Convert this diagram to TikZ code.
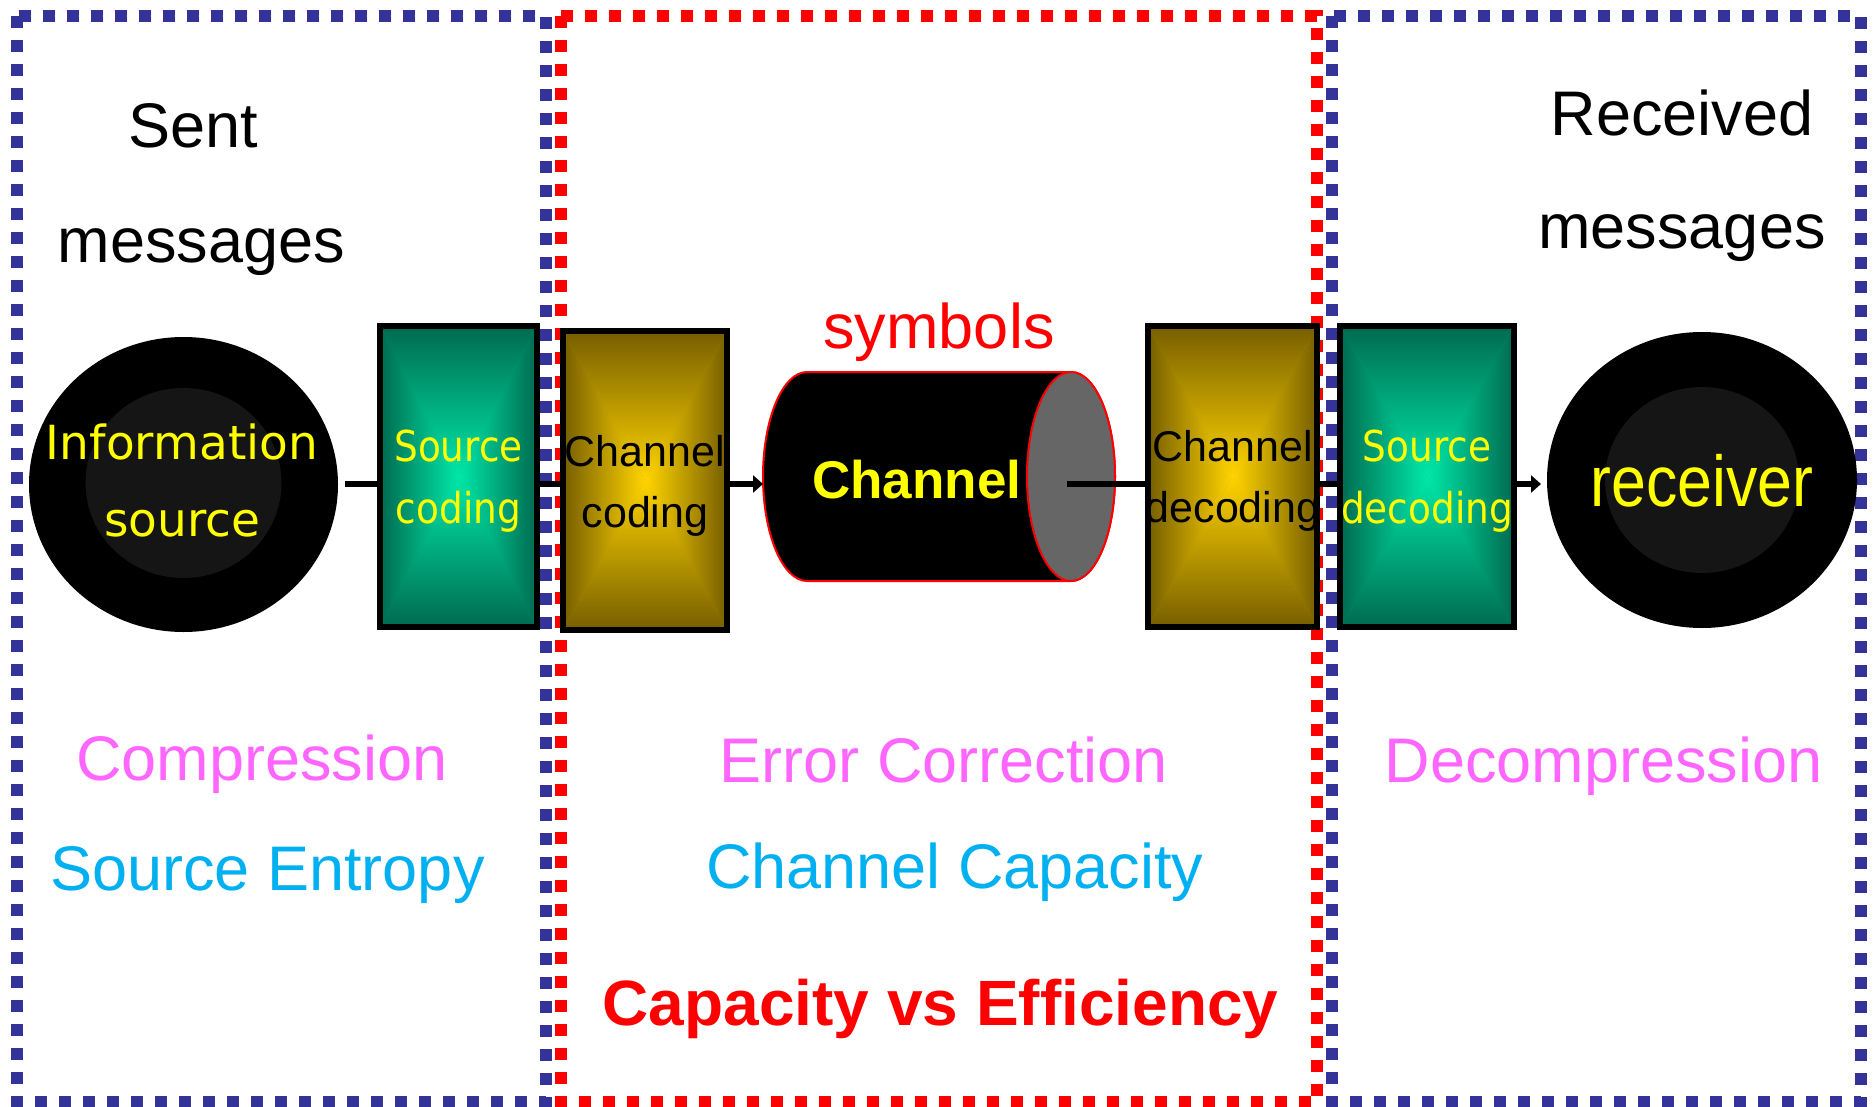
\documentclass[tikz,border=0pt]{standalone}
\usepackage{fontspec}
\setmainfont{Liberation Sans}
\newfontfamily\tahfont{DejaVu Sans}
\newfontfamily\tahnarrow[FakeStretch=0.88]{DejaVu Sans}
\newfontfamily\arialnarrow[FakeStretch=0.87]{Liberation Sans}
\usetikzlibrary{shapes.geometric,arrows.meta}

\definecolor{dblue}{RGB}{51,51,153}
\definecolor{tealE}{RGB}{0,106,80}
\definecolor{tealC}{RGB}{0,232,168}
\definecolor{goldE}{RGB}{118,94,0}
\definecolor{goldC}{RGB}{255,212,0}
\definecolor{pinkT}{RGB}{255,102,255}
\definecolor{cyanT}{RGB}{0,176,240}
\definecolor{yel}{RGB}{255,255,0}
\definecolor{capgray}{RGB}{102,102,102}
\definecolor{innerdisc}{RGB}{21,21,21}

\newcommand{\setfs}[1]{\fontsize{#1}{#1}\selectfont}

% rectangle filled with a "from centre" gradient built from four shaded triangles
\newcommand{\gradbox}[3]{%
  \fill[#3!50!#2] (#1.north west) rectangle (#1.south east);
  \shade[top color=#2, bottom color=#3] (#1.north west) -- (#1.north east) -- (#1.center) -- cycle;
  \shade[top color=#3, bottom color=#2] (#1.south west) -- (#1.south east) -- (#1.center) -- cycle;
  \shade[left color=#2, right color=#3] (#1.north west) -- (#1.south west) -- (#1.center) -- cycle;
  \shade[left color=#3, right color=#2] (#1.north east) -- (#1.south east) -- (#1.center) -- cycle;
  \draw[boxline] (#1.north west) rectangle (#1.south east);
}

\tikzset{
  bluedash/.style={draw=dblue, line width=6pt, dash pattern=on 6pt off 6pt},
  reddash/.style={draw=red, line width=6pt, dash pattern=on 6pt off 6pt},
  boxnode/.style={rectangle, inner sep=0pt, outer sep=0pt},
  boxline/.style={draw=black, line width=3pt},
  disc/.style={ellipse, fill=black, inner sep=0pt, outer sep=0pt},
  txt/.style={inner sep=0pt, outer sep=0pt, anchor=base},
  conn/.style={draw=black, line width=3pt},
  arr/.style={conn, -{Triangle[length=5pt,width=8.5pt]}},
  big/.style={txt, font=\setfs{31.5pt}},
}

\begin{document}
\begin{tikzpicture}[x=0.5pt, y=-0.5pt]
\useasboundingbox (0,0) rectangle (1873,1107);
\fill[white] (0,0) rectangle (1873,1107);

% three dotted frames
\draw[bluedash] (17,16) rectangle (546,1102);
\draw[bluedash] (1332,16) rectangle (1861,1102);
\draw[reddash] (561,16) rectangle (1317,1102);

% source and receiver discs
\node[disc, minimum width=154.5pt, minimum height=147.5pt] (src) at (183.5,484.5) {};
\fill[innerdisc] (183.5,483) ellipse [x radius=49pt, y radius=47.5pt];
\node[disc, minimum width=155pt, minimum height=148pt] (rcv) at (1702,480) {};
\fill[innerdisc] (1702,480) ellipse [x radius=48.5pt, y radius=46.5pt];

% coding blocks
\path node[boxnode, minimum width=78.5pt, minimum height=150.5pt] (scod) at (458.5,476.5) {};
\path node[boxnode, minimum width=82pt, minimum height=149.5pt] (ccod) at (645,480.5) {};
\path node[boxnode, minimum width=84.5pt, minimum height=150.5pt] (cdec) at (1232.5,476.5) {};
\path node[boxnode, minimum width=87pt, minimum height=150.5pt] (sdec) at (1427,476.5) {};
\gradbox{scod}{tealE}{tealC}
\gradbox{ccod}{goldE}{goldC}
\gradbox{cdec}{goldE}{goldC}
\gradbox{sdec}{tealE}{tealC}

% channel cylinder
\path node[boxnode, minimum width=176pt, minimum height=104.5pt] (chan) at (939,476.5) {};
\filldraw[fill=black, draw=red, line width=1pt]
  (1071,372) -- (807,372)
  arc [start angle=90, end angle=270, x radius=22pt, y radius=52.25pt]
  -- (1071,581)
  arc [start angle=270, end angle=450, x radius=22pt, y radius=52.25pt] -- cycle;
\filldraw[fill=capgray, draw=red, line width=1pt] (1071,476.5) ellipse [x radius=22pt, y radius=52.25pt];
\coordinate (capc) at (1067,484);

% connectors
\coordinate (ax) at (0,484);
\draw[conn, shorten <=3.5pt] (src.east |- ax) -- (scod.west |- ax);
\draw[conn] (scod.east |- ax) -- (ccod.west |- ax);
\draw[arr] (ccod.east |- ax) -- (chan.west |- ax);
\draw[conn] (capc) -- (cdec.west |- ax);
\draw[conn] (cdec.east |- ax) -- (sdec.west |- ax);
\draw[arr, shorten >=3pt] (sdec.east |- ax) -- (rcv.west |- ax);

% headings
\node[big] (sent1) at (193,148) {Sent};
\node[big] (sent2) at (201.5,263) {messages};
\node[big] (recv1) at (1682,136) {Received};
\node[big] (recv2) at (1682,249) {messages};
\node[big, text=red] (sym) at (939,348) {symbols};

% labels inside the blocks
\node[txt, text=yel, font=\tahfont\setfs{23.5pt}] (info1) at (182,459) {Information};
\node[txt, text=yel, font=\tahfont\setfs{23.5pt}] (info2) at (182.5,536) {source};
\node[txt, text=yel, font=\tahnarrow\setfs{21.25pt}] (scod1) at (458.5,461) {Source};
\node[txt, text=yel, font=\tahnarrow\setfs{21.25pt}] (scod2) at (458.5,523) {coding};
\node[txt, font=\setfs{21.5pt}] (ccod1) at (645,466) {Channel};
\node[txt, font=\setfs{21.5pt}] (ccod2) at (645,527) {coding};
\node[txt, text=yel, font=\bfseries\setfs{26.5pt}] (chan1) at (916.7,498) {Channel};
\node[txt, font=\setfs{21.5pt}] (cdec1) at (1233,461) {Channel};
\node[txt, font=\setfs{21.5pt}] (cdec2) at (1233,522) {decoding};
\node[txt, text=yel, font=\tahnarrow\setfs{21.25pt}] (sdec1) at (1427,461) {Source};
\node[txt, text=yel, font=\tahnarrow\setfs{21.25pt}] (sdec2) at (1427,523) {decoding};
\node[txt, text=yel, font=\arialnarrow\setfs{36pt}] (rcv1) at (1702,506) {receiver};

% lower captions
\node[big, text=pinkT] (comp) at (262,780) {Compression};
\node[big, text=cyanT] (sentr) at (267.5,890) {Source Entropy};
\node[big, text=pinkT] (errc) at (944,782) {Error Correction};
\node[big, text=cyanT] (chcap) at (955,888) {Channel Capacity};
\node[big, text=pinkT] (decomp) at (1603.6,782) {Decompression};
\node[txt, text=red, font=\bfseries\setfs{32pt}] (cve) at (940.5,1025) {Capacity vs Efficiency};
\end{tikzpicture}
\end{document}
